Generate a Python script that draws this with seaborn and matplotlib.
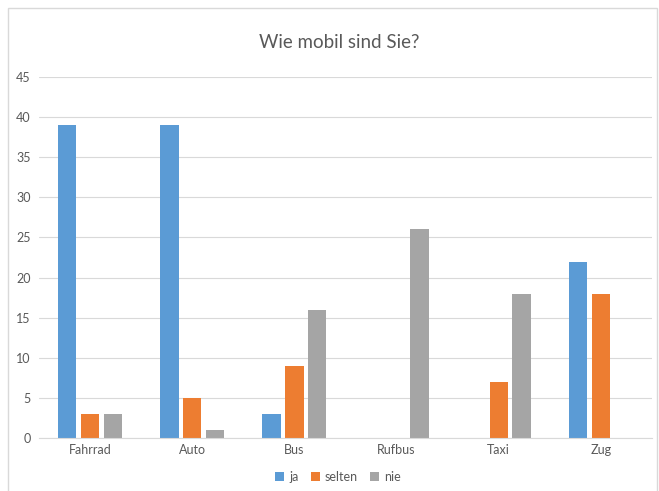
import pandas as pd
import matplotlib.pyplot as plt
import seaborn as sns
from matplotlib.patches import Rectangle, Patch

# Daten
kategorien = ['Fahrrad', 'Auto', 'Bus', 'Rufbus', 'Taxi', 'Zug']
ja = [39, 39, 3, 0, 0, 22]
selten = [3, 5, 9, 0, 7, 18]
nie = [3, 1, 16, 26, 18, 0]
serien = ['ja', 'selten', 'nie']
farben = ['#5B9BD5', '#ED7D31', '#A5A5A5']

df = pd.DataFrame({'Kategorie': kategorien, 'ja': ja, 'selten': selten, 'nie': nie})
df = df.melt(id_vars='Kategorie', var_name='Serie', value_name='Wert')

sns.set_style('white')
plt.rcParams['font.family'] = ['Lato', 'DejaVu Sans']
textfarbe = '#595959'

fig = plt.figure(figsize=(6.59, 4.91), dpi=100)
ax = fig.add_axes([39 / 659, 1 - 438 / 491, 613 / 659, 361 / 491])

sns.barplot(data=df, x='Kategorie', y='Wert', hue='Serie', order=kategorien,
            hue_order=serien, palette=farben, width=0.67, gap=0.2,
            saturation=1, legend=False, linewidth=0, ax=ax)

ax.set_xlim(-0.5, 5.5)
ax.set_ylim(0, 45)
ax.set_yticks(range(0, 46, 5))
ax.yaxis.grid(True, color='#D9D9D9', linewidth=0.8)
ax.set_axisbelow(True)
for s in ['left', 'right', 'top']:
    ax.spines[s].set_visible(False)
ax.spines['bottom'].set_color('#D9D9D9')
ax.spines['bottom'].set_linewidth(0.8)
ax.tick_params(axis='y', length=0, pad=6, labelsize=9, labelcolor=textfarbe)
ax.tick_params(axis='x', length=0, pad=4, labelsize=9, labelcolor=textfarbe)
ax.set_xticks([-0.5, 5.5], minor=True)
ax.tick_params(axis='x', which='minor', length=8, color='#D9D9D9', width=0.8)
ax.set_xlabel('')
ax.set_ylabel('')

fig.text(339 / 659, 1 - 43 / 491, 'Wie mobil sind Sie?', ha='center', va='center',
         fontsize=13.5, color=textfarbe)

handles = [Patch(facecolor=f, edgecolor='none') for f in farben]
fig.legend(handles, serien, loc='center', bbox_to_anchor=(338 / 659, 1 - 477 / 491),
           ncol=3, frameon=False, fontsize=9, labelcolor=textfarbe,
           handlelength=0.7, handleheight=0.7, handletextpad=0.4, columnspacing=1.0)

fig.patches.append(Rectangle((8 / 659, -0.05), 649 / 659, 1.05 - 8 / 491,
                             transform=fig.transFigure, fill=False,
                             edgecolor='#D9D9D9', linewidth=1))

fig.savefig('out.png', dpi=100, facecolor='white')
